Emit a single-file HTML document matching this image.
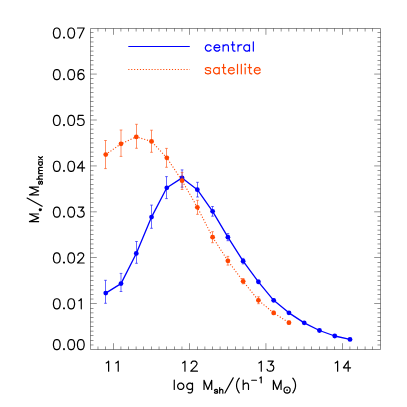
<!DOCTYPE html>
<html><head><meta charset="utf-8"><title>plot</title>
<style>html,body{margin:0;padding:0;background:#fff;font-family:"Liberation Sans",sans-serif;overflow:hidden}svg{position:absolute;left:0;top:0}</style>
</head><body>
<svg width="407" height="407" viewBox="0 0 407 407" style="display:block"><path d="M90.5 28.5H380.5V349.5H90.5Z" fill="none" stroke="#000" stroke-width="0.44" stroke-linejoin="miter"/>
<path d="M97.98 349.5v-3.0M97.98 28.5v3.0M105.50 349.5v-3.0M105.50 28.5v3.0M113.50 349.5v-6.3M113.50 28.5v6.3M120.88 349.5v-3.0M120.88 28.5v3.0M128.50 349.5v-3.0M128.50 28.5v3.0M136.15 349.5v-3.0M136.15 28.5v3.0M143.50 349.5v-3.0M143.50 28.5v3.0M151.50 349.5v-3.0M151.50 28.5v3.0M159.05 349.5v-3.0M159.05 28.5v3.0M166.50 349.5v-3.0M166.50 28.5v3.0M174.50 349.5v-3.0M174.50 28.5v3.0M181.95 349.5v-3.0M181.95 28.5v3.0M189.50 349.5v-6.3M189.50 28.5v6.3M197.50 349.5v-3.0M197.50 28.5v3.0M204.85 349.5v-3.0M204.85 28.5v3.0M212.50 349.5v-3.0M212.50 28.5v3.0M220.11 349.5v-3.0M220.11 28.5v3.0M227.50 349.5v-3.0M227.50 28.5v3.0M235.50 349.5v-3.0M235.50 28.5v3.0M243.01 349.5v-3.0M243.01 28.5v3.0M250.50 349.5v-3.0M250.50 28.5v3.0M258.50 349.5v-3.0M258.50 28.5v3.0M265.91 349.5v-6.3M265.91 28.5v6.3M273.50 349.5v-3.0M273.50 28.5v3.0M281.18 349.5v-3.0M281.18 28.5v3.0M288.81 349.5v-3.0M288.81 28.5v3.0M296.50 349.5v-3.0M296.50 28.5v3.0M304.07 349.5v-3.0M304.07 28.5v3.0M311.50 349.5v-3.0M311.50 28.5v3.0M319.50 349.5v-3.0M319.50 28.5v3.0M326.97 349.5v-3.0M326.97 28.5v3.0M334.50 349.5v-3.0M334.50 28.5v3.0M342.50 349.5v-6.3M342.50 28.5v6.3M349.87 349.5v-3.0M349.87 28.5v3.0M357.50 349.5v-3.0M357.50 28.5v3.0M365.14 349.5v-3.0M365.14 28.5v3.0M372.50 349.5v-3.0M372.50 28.5v3.0M90.5 344.96h3.0M380.5 344.96h-3.0M90.5 340.50h3.0M380.5 340.50h-3.0M90.5 335.50h3.0M380.5 335.50h-3.0M90.5 331.19h3.0M380.5 331.19h-3.0M90.5 326.50h3.0M380.5 326.50h-3.0M90.5 322.00h3.0M380.5 322.00h-3.0M90.5 317.50h3.0M380.5 317.50h-3.0M90.5 312.82h3.0M380.5 312.82h-3.0M90.5 308.50h3.0M380.5 308.50h-3.0M90.5 303.50h6.3M380.5 303.50h-6.3M90.5 299.05h3.0M380.5 299.05h-3.0M90.5 294.50h3.0M380.5 294.50h-3.0M90.5 289.87h3.0M380.5 289.87h-3.0M90.5 285.50h3.0M380.5 285.50h-3.0M90.5 280.50h3.0M380.5 280.50h-3.0M90.5 276.09h3.0M380.5 276.09h-3.0M90.5 271.50h3.0M380.5 271.50h-3.0M90.5 266.91h3.0M380.5 266.91h-3.0M90.5 262.50h3.0M380.5 262.50h-3.0M90.5 257.50h6.3M380.5 257.50h-6.3M90.5 253.14h3.0M380.5 253.14h-3.0M90.5 248.50h3.0M380.5 248.50h-3.0M90.5 243.96h3.0M380.5 243.96h-3.0M90.5 239.50h3.0M380.5 239.50h-3.0M90.5 234.50h3.0M380.5 234.50h-3.0M90.5 230.18h3.0M380.5 230.18h-3.0M90.5 225.50h3.0M380.5 225.50h-3.0M90.5 221.00h3.0M380.5 221.00h-3.0M90.5 216.50h3.0M380.5 216.50h-3.0M90.5 211.82h6.3M380.5 211.82h-6.3M90.5 207.50h3.0M380.5 207.50h-3.0M90.5 202.50h3.0M380.5 202.50h-3.0M90.5 198.05h3.0M380.5 198.05h-3.0M90.5 193.50h3.0M380.5 193.50h-3.0M90.5 188.87h3.0M380.5 188.87h-3.0M90.5 184.50h3.0M380.5 184.50h-3.0M90.5 179.50h3.0M380.5 179.50h-3.0M90.5 175.09h3.0M380.5 175.09h-3.0M90.5 170.50h3.0M380.5 170.50h-3.0M90.5 165.91h6.3M380.5 165.91h-6.3M90.5 161.50h3.0M380.5 161.50h-3.0M90.5 156.50h3.0M380.5 156.50h-3.0M90.5 152.14h3.0M380.5 152.14h-3.0M90.5 147.50h3.0M380.5 147.50h-3.0M90.5 142.96h3.0M380.5 142.96h-3.0M90.5 138.50h3.0M380.5 138.50h-3.0M90.5 133.50h3.0M380.5 133.50h-3.0M90.5 129.18h3.0M380.5 129.18h-3.0M90.5 124.50h3.0M380.5 124.50h-3.0M90.5 120.00h6.3M380.5 120.00h-6.3M90.5 115.50h3.0M380.5 115.50h-3.0M90.5 110.82h3.0M380.5 110.82h-3.0M90.5 106.50h3.0M380.5 106.50h-3.0M90.5 101.50h3.0M380.5 101.50h-3.0M90.5 97.05h3.0M380.5 97.05h-3.0M90.5 92.50h3.0M380.5 92.50h-3.0M90.5 87.86h3.0M380.5 87.86h-3.0M90.5 83.50h3.0M380.5 83.50h-3.0M90.5 78.50h3.0M380.5 78.50h-3.0M90.5 74.09h6.3M380.5 74.09h-6.3M90.5 69.50h3.0M380.5 69.50h-3.0M90.5 64.91h3.0M380.5 64.91h-3.0M90.5 60.50h3.0M380.5 60.50h-3.0M90.5 55.50h3.0M380.5 55.50h-3.0M90.5 51.13h3.0M380.5 51.13h-3.0M90.5 46.50h3.0M380.5 46.50h-3.0M90.5 41.95h3.0M380.5 41.95h-3.0M90.5 37.50h3.0M380.5 37.50h-3.0M90.5 32.50h3.0M380.5 32.50h-3.0" fill="none" stroke="#000" stroke-width="0.42"/>
<path d="M56.32 339.57L54.88 340.05L53.92 341.49L53.44 343.89L53.44 345.33L53.92 347.73L54.88 349.17L56.32 349.65L57.28 349.65L58.72 349.17L59.68 347.73L60.16 345.33L60.16 343.89L59.68 341.49L58.72 340.05L57.28 339.57L56.32 339.57M64.00 348.69L63.52 349.17L64.00 349.65L64.48 349.17L64.00 348.69M70.72 339.57L69.28 340.05L68.32 341.49L67.84 343.89L67.84 345.33L68.32 347.73L69.28 349.17L70.72 349.65L71.68 349.65L73.12 349.17L74.08 347.73L74.56 345.33L74.56 343.89L74.08 341.49L73.12 340.05L71.68 339.57L70.72 339.57M80.32 339.57L78.88 340.05L77.92 341.49L77.44 343.89L77.44 345.33L77.92 347.73L78.88 349.17L80.32 349.65L81.28 349.65L82.72 349.17L83.68 347.73L84.16 345.33L84.16 343.89L83.68 341.49L82.72 340.05L81.28 339.57L80.32 339.57M56.32 298.77L54.88 299.25L53.92 300.69L53.44 303.09L53.44 304.53L53.92 306.93L54.88 308.37L56.32 308.85L57.28 308.85L58.72 308.37L59.68 306.93L60.16 304.53L60.16 303.09L59.68 300.69L58.72 299.25L57.28 298.77L56.32 298.77M64.00 307.89L63.52 308.37L64.00 308.85L64.48 308.37L64.00 307.89M70.72 298.77L69.28 299.25L68.32 300.69L67.84 303.09L67.84 304.53L68.32 306.93L69.28 308.37L70.72 308.85L71.68 308.85L73.12 308.37L74.08 306.93L74.56 304.53L74.56 303.09L74.08 300.69L73.12 299.25L71.68 298.77L70.72 298.77M78.88 300.69L79.84 300.21L81.28 298.77L81.28 308.85M56.32 252.93L54.88 253.41L53.92 254.85L53.44 257.25L53.44 258.69L53.92 261.09L54.88 262.53L56.32 263.01L57.28 263.01L58.72 262.53L59.68 261.09L60.16 258.69L60.16 257.25L59.68 254.85L58.72 253.41L57.28 252.93L56.32 252.93M64.00 262.05L63.52 262.53L64.00 263.01L64.48 262.53L64.00 262.05M70.72 252.93L69.28 253.41L68.32 254.85L67.84 257.25L67.84 258.69L68.32 261.09L69.28 262.53L70.72 263.01L71.68 263.01L73.12 262.53L74.08 261.09L74.56 258.69L74.56 257.25L74.08 254.85L73.12 253.41L71.68 252.93L70.72 252.93M77.92 255.33L77.92 254.85L78.40 253.89L78.88 253.41L79.84 252.93L81.76 252.93L82.72 253.41L83.20 253.89L83.68 254.85L83.68 255.81L83.20 256.77L82.24 258.21L77.44 263.01L84.16 263.01M56.32 207.09L54.88 207.57L53.92 209.01L53.44 211.41L53.44 212.85L53.92 215.25L54.88 216.69L56.32 217.17L57.28 217.17L58.72 216.69L59.68 215.25L60.16 212.85L60.16 211.41L59.68 209.01L58.72 207.57L57.28 207.09L56.32 207.09M64.00 216.21L63.52 216.69L64.00 217.17L64.48 216.69L64.00 216.21M70.72 207.09L69.28 207.57L68.32 209.01L67.84 211.41L67.84 212.85L68.32 215.25L69.28 216.69L70.72 217.17L71.68 217.17L73.12 216.69L74.08 215.25L74.56 212.85L74.56 211.41L74.08 209.01L73.12 207.57L71.68 207.09L70.72 207.09M78.40 207.09L83.68 207.09L80.80 210.93L82.24 210.93L83.20 211.41L83.68 211.89L84.16 213.33L84.16 214.29L83.68 215.73L82.72 216.69L81.28 217.17L79.84 217.17L78.40 216.69L77.92 216.21L77.44 215.25M56.32 161.25L54.88 161.73L53.92 163.17L53.44 165.57L53.44 167.01L53.92 169.41L54.88 170.85L56.32 171.33L57.28 171.33L58.72 170.85L59.68 169.41L60.16 167.01L60.16 165.57L59.68 163.17L58.72 161.73L57.28 161.25L56.32 161.25M64.00 170.37L63.52 170.85L64.00 171.33L64.48 170.85L64.00 170.37M70.72 161.25L69.28 161.73L68.32 163.17L67.84 165.57L67.84 167.01L68.32 169.41L69.28 170.85L70.72 171.33L71.68 171.33L73.12 170.85L74.08 169.41L74.56 167.01L74.56 165.57L74.08 163.17L73.12 161.73L71.68 161.25L70.72 161.25M82.24 161.25L77.44 167.97L84.64 167.97M82.24 161.25L82.24 171.33M56.32 115.41L54.88 115.89L53.92 117.33L53.44 119.73L53.44 121.17L53.92 123.57L54.88 125.01L56.32 125.49L57.28 125.49L58.72 125.01L59.68 123.57L60.16 121.17L60.16 119.73L59.68 117.33L58.72 115.89L57.28 115.41L56.32 115.41M64.00 124.53L63.52 125.01L64.00 125.49L64.48 125.01L64.00 124.53M70.72 115.41L69.28 115.89L68.32 117.33L67.84 119.73L67.84 121.17L68.32 123.57L69.28 125.01L70.72 125.49L71.68 125.49L73.12 125.01L74.08 123.57L74.56 121.17L74.56 119.73L74.08 117.33L73.12 115.89L71.68 115.41L70.72 115.41M83.20 115.41L78.40 115.41L77.92 119.73L78.40 119.25L79.84 118.77L81.28 118.77L82.72 119.25L83.68 120.21L84.16 121.65L84.16 122.61L83.68 124.05L82.72 125.01L81.28 125.49L79.84 125.49L78.40 125.01L77.92 124.53L77.44 123.57M56.32 69.57L54.88 70.05L53.92 71.49L53.44 73.89L53.44 75.33L53.92 77.73L54.88 79.17L56.32 79.65L57.28 79.65L58.72 79.17L59.68 77.73L60.16 75.33L60.16 73.89L59.68 71.49L58.72 70.05L57.28 69.57L56.32 69.57M64.00 78.69L63.52 79.17L64.00 79.65L64.48 79.17L64.00 78.69M70.72 69.57L69.28 70.05L68.32 71.49L67.84 73.89L67.84 75.33L68.32 77.73L69.28 79.17L70.72 79.65L71.68 79.65L73.12 79.17L74.08 77.73L74.56 75.33L74.56 73.89L74.08 71.49L73.12 70.05L71.68 69.57L70.72 69.57M83.68 71.01L83.20 70.05L81.76 69.57L80.80 69.57L79.36 70.05L78.40 71.49L77.92 73.89L77.92 76.29L78.40 78.21L79.36 79.17L80.80 79.65L81.28 79.65L82.72 79.17L83.68 78.21L84.16 76.77L84.16 76.29L83.68 74.85L82.72 73.89L81.28 73.41L80.80 73.41L79.36 73.89L78.40 74.85L77.92 76.29M56.32 28.00L54.88 28.48L53.92 29.92L53.44 32.32L53.44 33.76L53.92 36.16L54.88 37.60L56.32 38.08L57.28 38.08L58.72 37.60L59.68 36.16L60.16 33.76L60.16 32.32L59.68 29.92L58.72 28.48L57.28 28.00L56.32 28.00M64.00 37.12L63.52 37.60L64.00 38.08L64.48 37.60L64.00 37.12M70.72 28.00L69.28 28.48L68.32 29.92L67.84 32.32L67.84 33.76L68.32 36.16L69.28 37.60L70.72 38.08L71.68 38.08L73.12 37.60L74.08 36.16L74.56 33.76L74.56 32.32L74.08 29.92L73.12 28.48L71.68 28.00L70.72 28.00M84.16 28.00L79.36 38.08M77.44 28.00L84.16 28.00M106.23 363.04L107.19 362.56L108.63 361.12L108.63 371.20M115.83 363.04L116.79 362.56L118.23 361.12L118.23 371.20M182.56 363.04L183.52 362.56L184.96 361.12L184.96 371.20M191.20 363.52L191.20 363.04L191.68 362.08L192.16 361.60L193.12 361.12L195.04 361.12L196.00 361.60L196.48 362.08L196.96 363.04L196.96 364.00L196.48 364.96L195.52 366.40L190.72 371.20L197.44 371.20M258.89 363.04L259.85 362.56L261.29 361.12L261.29 371.20M268.01 361.12L273.29 361.12L270.41 364.96L271.85 364.96L272.81 365.44L273.29 365.92L273.77 367.36L273.77 368.32L273.29 369.76L272.33 370.72L270.89 371.20L269.45 371.20L268.01 370.72L267.53 370.24L267.05 369.28M335.22 363.04L336.18 362.56L337.62 361.12L337.62 371.20M348.18 361.12L343.38 367.84L350.58 367.84M348.18 361.12L348.18 371.20M174.27 380.03L174.27 389.40M180.03 383.15L179.07 383.60L178.11 384.49L177.63 385.83L177.63 386.72L178.11 388.06L179.07 388.95L180.03 389.40L181.47 389.40L182.43 388.95L183.39 388.06L183.87 386.72L183.87 385.83L183.39 384.49L182.43 383.60L181.47 383.15L180.03 383.15M192.51 383.15L192.51 390.41L192.03 391.92L191.55 392.42L190.59 392.93L189.15 392.93L188.19 392.42M192.51 384.49L191.55 383.60L190.59 383.15L189.15 383.15L188.19 383.60L187.23 384.49L186.75 385.83L186.75 386.72L187.23 388.06L188.19 388.95L189.15 389.40L190.59 389.40L191.55 388.95L192.51 388.06M204.03 380.28L204.03 389.40M204.03 380.28L207.87 389.40M211.71 380.28L207.87 389.40M211.71 380.28L211.71 389.40M217.66 390.25L217.37 389.72L216.51 389.45L215.65 389.45L214.78 389.72L214.49 390.25L214.78 390.79L215.36 391.06L216.80 391.33L217.37 391.59L217.66 392.13L217.66 392.40L217.37 392.93L216.51 393.20L215.65 393.20L214.78 392.93L214.49 392.40M219.68 387.58L219.68 393.20M219.68 390.52L220.54 389.72L221.12 389.45L221.98 389.45L222.56 389.72L222.85 390.52L222.85 393.20M233.21 377.88L224.96 392.93M239.26 378.24L238.49 379.13L237.73 380.47L236.96 382.26L236.57 384.49L236.57 386.28L236.96 388.51L237.73 390.36L238.49 391.80L239.26 392.76M243.20 380.03L243.20 389.40M243.20 384.94L244.64 383.60L245.60 383.15L247.04 383.15L248.00 383.60L248.48 384.94L248.48 389.40M251.72 380.26L256.45 380.26M259.76 377.95L260.33 377.67L261.20 376.80L261.20 382.85M273.39 380.28L273.39 389.40M273.39 380.28L277.23 389.40M281.07 380.28L277.23 389.40M281.07 380.28L281.07 389.40M283.99 390.10a3.1 3.1 0 1 0 6.2 0a3.1 3.1 0 1 0 -6.2 0M286.89 389.90h0.4v0.4h-0.4zM292.83 378.24L293.60 379.13L294.37 380.47L295.13 382.26L295.52 384.49L295.52 386.28L295.13 388.51L294.37 390.36L293.60 391.80L292.83 392.76" fill="none" stroke="#000" stroke-width="1.2" stroke-linecap="round" stroke-linejoin="round"/>
<path transform="translate(38.6 223.59) rotate(-90)" d="M1.92 -9.12L1.92 0.00M1.92 -9.12L5.76 0.00M9.60 -9.12L5.76 0.00M9.60 -9.12L9.60 0.00M13.92 1.70h0.01M13.92 0.60v2.2M13.02 1.10l1.8 1.2M13.02 2.30l1.8 -1.2M25.54 -11.52L17.28 3.53M28.80 -9.12L28.80 0.00M28.80 -9.12L32.64 0.00M36.48 -9.12L32.64 0.00M36.48 -9.12L36.48 0.00M42.43 0.85L42.14 0.32L41.28 0.05L40.42 0.05L39.55 0.32L39.26 0.85L39.55 1.39L40.13 1.66L41.57 1.93L42.14 2.19L42.43 2.73L42.43 3.00L42.14 3.53L41.28 3.80L40.42 3.80L39.55 3.53L39.26 3.00M44.45 -1.82L44.45 3.80M44.45 1.12L45.31 0.32L45.89 0.05L46.75 0.05L47.33 0.32L47.62 1.12L47.62 3.80M49.92 0.05L49.92 3.80M49.92 1.12L50.78 0.32L51.36 0.05L52.22 0.05L52.80 0.32L53.09 1.12L53.09 3.80M53.09 1.12L53.95 0.32L54.53 0.05L55.39 0.05L55.97 0.32L56.26 1.12L56.26 3.80M61.73 0.05L61.73 3.80M61.73 0.85L61.15 0.32L60.58 0.05L59.71 0.05L59.14 0.32L58.56 0.85L58.27 1.66L58.27 2.19L58.56 3.00L59.14 3.53L59.71 3.80L60.58 3.80L61.15 3.53L61.73 3.00M63.74 0.05L66.91 3.80M66.91 0.05L63.74 3.80" fill="none" stroke="#000" stroke-width="1.2" stroke-linecap="round" stroke-linejoin="round"/>
<path d="M128.3 46.5H189.8" stroke="#0000ff" stroke-width="1.2" fill="none"/>
<path d="M128.3 69.5H189.8" stroke="#ff4500" stroke-width="1.05" fill="none" stroke-dasharray="1.1 1.81"/>
<path d="M211.10 46.19L210.14 45.30L209.18 44.85L207.74 44.85L206.78 45.30L205.82 46.19L205.34 47.53L205.34 48.42L205.82 49.76L206.78 50.65L207.74 51.10L209.18 51.10L210.14 50.65L211.10 49.76M213.98 47.53L219.74 47.53L219.74 46.64L219.26 45.74L218.78 45.30L217.82 44.85L216.38 44.85L215.42 45.30L214.46 46.19L213.98 47.53L213.98 48.42L214.46 49.76L215.42 50.65L216.38 51.10L217.82 51.10L218.78 50.65L219.74 49.76M223.10 44.85L223.10 51.10M223.10 46.64L224.54 45.30L225.50 44.85L226.94 44.85L227.90 45.30L228.38 46.64L228.38 51.10M232.70 41.73L232.70 49.31L233.18 50.65L234.14 51.10L235.10 51.10M231.26 44.85L234.62 44.85M237.98 44.85L237.98 51.10M237.98 47.53L238.46 46.19L239.42 45.30L240.38 44.85L241.82 44.85M249.50 44.85L249.50 51.10M249.50 46.19L248.54 45.30L247.58 44.85L246.14 44.85L245.18 45.30L244.22 46.19L243.74 47.53L243.74 48.42L244.22 49.76L245.18 50.65L246.14 51.10L247.58 51.10L248.54 50.65L249.50 49.76M253.34 41.73L253.34 51.10" fill="none" stroke="#0000ff" stroke-width="1.2" stroke-linecap="round" stroke-linejoin="round"/>
<path d="M210.62 68.89L210.14 68.00L208.70 67.55L207.26 67.55L205.82 68.00L205.34 68.89L205.82 69.78L206.78 70.23L209.18 70.68L210.14 71.12L210.62 72.01L210.62 72.46L210.14 73.35L208.70 73.80L207.26 73.80L205.82 73.35L205.34 72.46M219.26 67.55L219.26 73.80M219.26 68.89L218.30 68.00L217.34 67.55L215.90 67.55L214.94 68.00L213.98 68.89L213.50 70.23L213.50 71.12L213.98 72.46L214.94 73.35L215.90 73.80L217.34 73.80L218.30 73.35L219.26 72.46M223.58 64.43L223.58 72.01L224.06 73.35L225.02 73.80L225.98 73.80M222.14 67.55L225.50 67.55M228.38 70.23L234.14 70.23L234.14 69.34L233.66 68.44L233.18 68.00L232.22 67.55L230.78 67.55L229.82 68.00L228.86 68.89L228.38 70.23L228.38 71.12L228.86 72.46L229.82 73.35L230.78 73.80L232.22 73.80L233.18 73.35L234.14 72.46M237.50 64.43L237.50 73.80M241.34 64.43L241.34 73.80M244.70 64.43L245.18 64.87L245.66 64.43L245.18 63.98L244.70 64.43M245.18 67.55L245.18 73.80M249.50 64.43L249.50 72.01L249.98 73.35L250.94 73.80L251.90 73.80M248.06 67.55L251.42 67.55M254.30 70.23L260.06 70.23L260.06 69.34L259.58 68.44L259.10 68.00L258.14 67.55L256.70 67.55L255.74 68.00L254.78 68.89L254.30 70.23L254.30 71.12L254.78 72.46L255.74 73.35L256.70 73.80L258.14 73.80L259.10 73.35L260.06 72.46" fill="none" stroke="#ff4500" stroke-width="1.2" stroke-linecap="round" stroke-linejoin="round"/>
<polyline points="105.75,293.10 121.01,283.60 136.28,253.45 151.54,217.10 166.81,187.80 182.08,177.90 197.34,189.70 212.61,211.30 227.88,237.20 243.14,261.20 258.41,281.80 273.67,300.30 288.94,312.85 304.20,322.85 319.47,330.50 334.74,336.00 350.00,339.40" fill="none" stroke="#0000ff" stroke-width="1.3" stroke-linejoin="round"/>
<path d="M105.50 280.30V303.30M104.15 280.30h2.7M104.15 303.30h2.7M121.01 273.40V291.50M119.66 273.40h2.7M119.66 291.50h2.7M136.50 241.50V263.30M135.15 241.50h2.7M135.15 263.30h2.7M151.50 205.10V228.30M150.15 205.10h2.7M150.15 228.30h2.7M166.50 176.60V198.60M165.15 176.60h2.7M165.15 198.60h2.7M182.08 169.90V187.20M180.73 169.90h2.7M180.73 187.20h2.7M197.50 182.30V197.00M196.15 182.30h2.7M196.15 197.00h2.7M212.50 206.50V216.20M211.15 206.50h2.7M211.15 216.20h2.7M227.88 233.60V240.70M226.53 233.60h2.7M226.53 240.70h2.7M243.14 258.40V263.90M241.79 258.40h2.7M241.79 263.90h2.7M258.50 280.00V283.60M257.15 280.00h2.7M257.15 283.60h2.7M273.50 299.00V301.60M272.15 299.00h2.7M272.15 301.60h2.7M288.94 312.00V313.70M287.59 312.00h2.7M287.59 313.70h2.7M304.50 322.20V323.50M303.15 322.20h2.7M303.15 323.50h2.7M319.50 330.00V331.00M318.15 330.00h2.7M318.15 331.00h2.7M334.50 335.60V336.40M333.15 335.60h2.7M333.15 336.40h2.7M350.00 339.00V339.80M348.65 339.00h2.7M348.65 339.80h2.7" fill="none" stroke="#0000ff" stroke-width="0.6"/>
<circle cx="105.75" cy="293.10" r="2.4" fill="#0000ff"/>
<circle cx="121.01" cy="283.60" r="2.4" fill="#0000ff"/>
<circle cx="136.28" cy="253.45" r="2.4" fill="#0000ff"/>
<circle cx="151.54" cy="217.10" r="2.4" fill="#0000ff"/>
<circle cx="166.81" cy="187.80" r="2.4" fill="#0000ff"/>
<circle cx="182.08" cy="177.90" r="2.4" fill="#0000ff"/>
<circle cx="197.34" cy="189.70" r="2.4" fill="#0000ff"/>
<circle cx="212.61" cy="211.30" r="2.4" fill="#0000ff"/>
<circle cx="227.88" cy="237.20" r="2.4" fill="#0000ff"/>
<circle cx="243.14" cy="261.20" r="2.4" fill="#0000ff"/>
<circle cx="258.41" cy="281.80" r="2.4" fill="#0000ff"/>
<circle cx="273.67" cy="300.30" r="2.4" fill="#0000ff"/>
<circle cx="288.94" cy="312.85" r="2.4" fill="#0000ff"/>
<circle cx="304.20" cy="322.85" r="2.4" fill="#0000ff"/>
<circle cx="319.47" cy="330.50" r="2.4" fill="#0000ff"/>
<circle cx="334.74" cy="336.00" r="2.4" fill="#0000ff"/>
<circle cx="350.00" cy="339.40" r="2.4" fill="#0000ff"/>
<polyline points="105.75,154.60 121.01,143.80 136.28,136.90 151.54,141.40 166.81,157.85 182.08,180.70 197.34,207.35 212.61,237.20 227.88,260.80 243.14,281.30 258.41,300.30 273.67,312.90 288.94,322.70" fill="none" stroke="#ff4500" stroke-width="1.1" stroke-dasharray="1.1 1.81" stroke-linejoin="round"/>
<path d="M105.50 140.50V168.60M104.15 140.50h2.7M104.15 168.60h2.7M121.01 130.00V156.40M119.66 130.00h2.7M119.66 156.40h2.7M136.50 124.30V148.30M135.15 124.30h2.7M135.15 148.30h2.7M151.50 130.20V152.30M150.15 130.20h2.7M150.15 152.30h2.7M166.50 148.40V167.30M165.15 148.40h2.7M165.15 167.30h2.7M182.08 172.40V189.50M180.73 172.40h2.7M180.73 189.50h2.7M197.50 200.30V214.35M196.15 200.30h2.7M196.15 214.35h2.7M212.50 231.70V242.70M211.15 231.70h2.7M211.15 242.70h2.7M227.88 256.40V265.10M226.53 256.40h2.7M226.53 265.10h2.7M243.14 278.50V283.80M241.79 278.50h2.7M241.79 283.80h2.7M258.50 296.80V303.70M257.15 296.80h2.7M257.15 303.70h2.7M273.50 311.20V314.60M272.15 311.20h2.7M272.15 314.60h2.7M288.94 321.20V324.20M287.59 321.20h2.7M287.59 324.20h2.7" fill="none" stroke="#ff4500" stroke-width="0.6"/>
<circle cx="105.75" cy="154.60" r="2.4" fill="#ff4500"/>
<circle cx="121.01" cy="143.80" r="2.4" fill="#ff4500"/>
<circle cx="136.28" cy="136.90" r="2.4" fill="#ff4500"/>
<circle cx="151.54" cy="141.40" r="2.4" fill="#ff4500"/>
<circle cx="166.81" cy="157.85" r="2.4" fill="#ff4500"/>
<circle cx="182.08" cy="180.70" r="2.4" fill="#ff4500"/>
<circle cx="197.34" cy="207.35" r="2.4" fill="#ff4500"/>
<circle cx="212.61" cy="237.20" r="2.4" fill="#ff4500"/>
<circle cx="227.88" cy="260.80" r="2.4" fill="#ff4500"/>
<circle cx="243.14" cy="281.30" r="2.4" fill="#ff4500"/>
<circle cx="258.41" cy="300.30" r="2.4" fill="#ff4500"/>
<circle cx="273.67" cy="312.90" r="2.4" fill="#ff4500"/>
<circle cx="288.94" cy="322.70" r="2.4" fill="#ff4500"/></svg>
</body></html>
